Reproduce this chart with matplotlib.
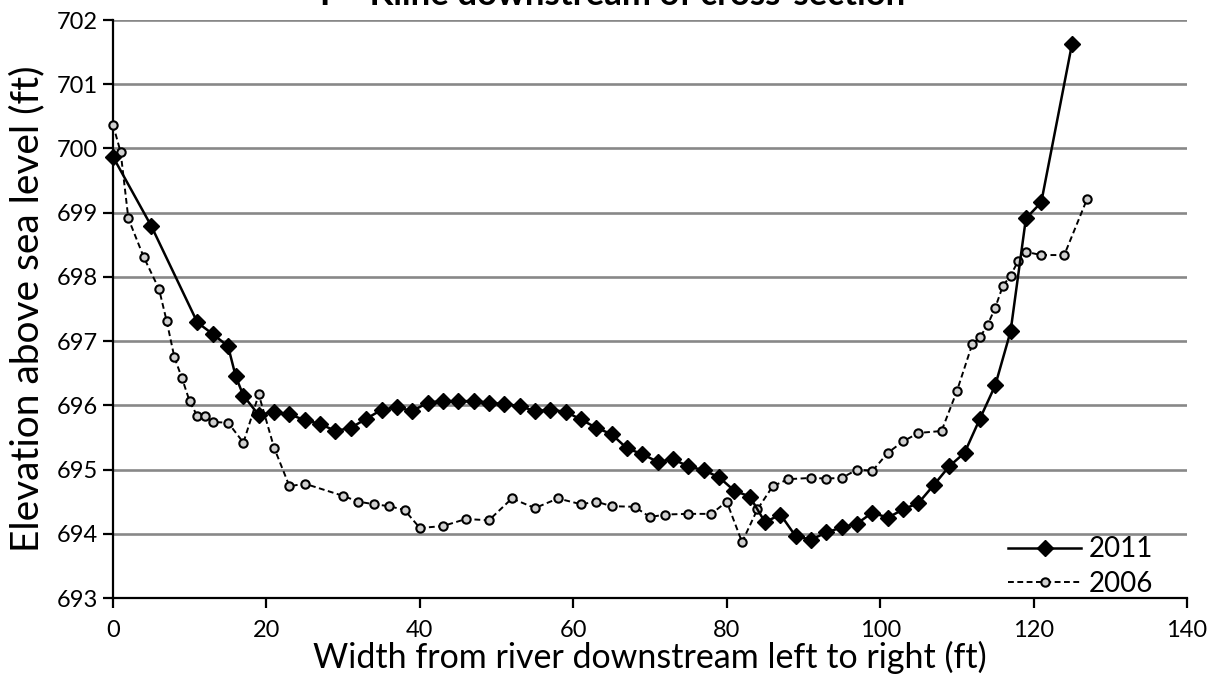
import matplotlib
matplotlib.use("Agg")
import matplotlib.pyplot as plt

plt.rcParams['font.family'] = ['Lato', 'DejaVu Sans']

title = "F - Kline downstream of cross-section"
xlabel = "Width from river downstream left to right (ft)"
ylabel = "Elevation above sea level (ft)"

x_2011 = [0, 5, 11, 13, 15, 16, 17, 19, 21, 23, 25, 27, 29, 31, 33, 35, 37, 39,
          41, 43, 45, 47, 49, 51, 53, 55, 57, 59, 61, 63, 65, 67, 69, 71, 73, 75,
          77, 79, 81, 83, 85, 87, 89, 91, 93, 95, 97, 99, 101, 103, 105, 107, 109,
          111, 113, 115, 117, 119, 121, 125]
y_2011 = [699.87, 698.79, 697.29, 697.11, 696.92, 696.45, 696.15, 695.85, 695.90,
          695.86, 695.77, 695.71, 695.60, 695.65, 695.79, 695.93, 695.97, 695.91,
          696.04, 696.07, 696.06, 696.07, 696.04, 696.02, 695.99, 695.91, 695.93,
          695.90, 695.78, 695.65, 695.55, 695.33, 695.24, 695.12, 695.16, 695.05,
          694.99, 694.88, 694.67, 694.58, 694.18, 694.30, 693.96, 693.91, 694.02,
          694.10, 694.16, 694.33, 694.25, 694.38, 694.48, 694.76, 695.05, 695.26,
          695.79, 696.31, 697.15, 698.91, 699.16, 701.62]

x_2006 = [0, 1, 2, 4, 6, 7, 8, 9, 10, 11, 12, 13, 15, 17, 19, 21, 23, 25, 30, 32,
          34, 36, 38, 40, 43, 46, 49, 52, 55, 58, 61, 63, 65, 68, 70, 72, 75, 78,
          80, 82, 84, 86, 88, 91, 93, 95, 97, 99, 101, 103, 105, 108, 110, 112,
          113, 114, 115, 116, 117, 118, 119, 121, 124, 127]
y_2006 = [700.37, 699.94, 698.91, 698.31, 697.81, 697.31, 696.75, 696.42, 696.06,
          695.83, 695.83, 695.74, 695.73, 695.42, 696.17, 695.34, 694.74, 694.78,
          694.59, 694.50, 694.46, 694.43, 694.37, 694.09, 694.12, 694.23, 694.21,
          694.55, 694.40, 694.55, 694.46, 694.50, 694.43, 694.42, 694.26, 694.30,
          694.31, 694.31, 694.50, 693.87, 694.38, 694.74, 694.85, 694.87, 694.86,
          694.87, 695.00, 694.98, 695.26, 695.44, 695.57, 695.60, 696.22, 696.95,
          697.06, 697.25, 697.52, 697.86, 698.02, 698.25, 698.39, 698.34, 698.34,
          699.22]

xticks = [0, 20, 40, 60, 80, 100, 120, 140]
yticks = [693, 694, 695, 696, 697, 698, 699, 700, 701, 702]

W, H = 1217, 687
fig = plt.figure(figsize=(W / 100, H / 100), dpi=100)
ax = fig.add_axes([113 / W, 1 - 598 / H, (1187 - 113) / W, (598 - 20) / H])

ax.set_xlim(0, 140)
ax.set_ylim(693, 702)
ax.set_xticks(xticks)
ax.set_yticks(yticks)
ax.yaxis.grid(True, color='#888888', linewidth=1.9)
ax.set_axisbelow(True)
for s in ['top', 'right']:
    ax.spines[s].set_visible(False)
for s in ['left', 'bottom']:
    ax.spines[s].set_linewidth(1.6)
    ax.spines[s].set_color('black')
ax.tick_params(axis='both', direction='out', length=7, width=1.6,
               labelsize=17, colors='black')
ax.tick_params(axis='y', pad=4)
ax.tick_params(axis='x', pad=9)

ax.plot(x_2011, y_2011, color='black', linewidth=1.8, linestyle='-',
        marker='D', markersize=8.5, markerfacecolor='black',
        markeredgecolor='black', label='2011', clip_on=False, zorder=4)
ax.plot(x_2006, y_2006, color='black', linewidth=1.4, linestyle=(0, (3, 1.8)),
        marker='o', markersize=6, markerfacecolor='#d0d0d0',
        markeredgecolor='black', markeredgewidth=1.5, label='2006',
        clip_on=False, zorder=3)

ax.set_xlabel(xlabel, fontsize=24.5, va='center')
ax.xaxis.set_label_coords(0.5, -0.102)
ax.set_ylabel(ylabel, fontsize=28, va='center')
ax.yaxis.set_label_coords(-0.08, 0.5)

leg = ax.legend(loc='lower right', frameon=False, fontsize=20,
                handlelength=2.6, handletextpad=0.3, labelspacing=0.3,
                borderaxespad=0.0, bbox_to_anchor=(0.979, -0.017))

fig.text(0.503, 1 - 5 / H, title, ha='center', va='baseline',
         fontsize=25, fontweight='bold')

fig.savefig('out.png', dpi=100)
